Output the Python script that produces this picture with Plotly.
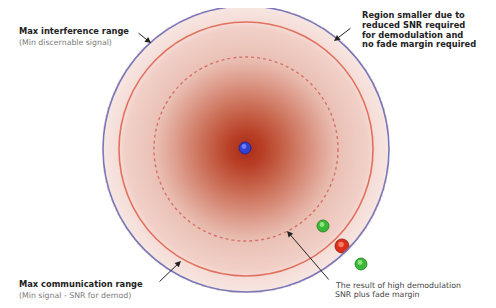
import numpy as np
import plotly.graph_objects as go

# ---- data ----
center = (246, 149)
ring_names = ["Max interference range", "Max communication range", "High demodulation SNR + fade margin"]
ring_radii = [143, 127, 92]
ring_colors = ["#7a78b8", "#e2705e", "#d8706a"]
ring_dash = ["solid", "solid", "dot"]

device_x = [245, 323, 342, 361]
device_y = [148, 226, 246, 264]
device_size = [12, 12, 14, 12]
device_colors = ["#3040d0", "#3cb838", "#d8301c", "#3cb838"]
device_edges = ["#1a2090", "#1e7a1e", "#8a1a0a", "#1e7a1e"]
device_highlights = ["#8090ff", "#a0f090", "#ff9070", "#a0f090"]

label_lines = ["Max interference range", "(Min discernable signal)",
               "Region smaller due to", "reduced SNR required", "for demodulation and", "no fade margin required",
               "Max communication range", "(Min signal - SNR for demod)",
               "The result of high demodulation", "SNR plus fade margin"]
label_x = [17, 17, 360, 360, 360, 360, 17, 17, 333, 333]
label_y = [31, 42, 15, 25, 34.5, 44, 284, 295, 285, 294]
label_style = ["b", "s", "b", "b", "b", "b", "b", "s", "r", "r"]

# page body has an 8px margin; map page pixels directly to data units
PAD = 8
W, H = 496, 308

fig = go.Figure()

# radial gradient fill
gx = np.arange(0, 497, 2)
gy = np.arange(0, 309, 2)
X, Y = np.meshgrid(gx, gy)
D = np.sqrt((X - center[0]) ** 2 + (Y - center[1]) ** 2)
Z = np.where(D <= ring_radii[0] + 1, D, np.nan)
fig.add_trace(go.Heatmap(
    x=gx, y=gy, z=Z, zmin=0, zmax=ring_radii[0], zsmooth="best", showscale=False, hoverinfo="skip",
    colorscale=[[0.0, "#ac2c18"], [0.12, "#b84026"], [0.3, "#ca6c54"], [0.5, "#de9e8e"],
                [0.64, "#eac0b4"], [0.85, "#f1d0c8"], [0.89, "#f5dcd6"], [1.0, "#f7e6e2"]]))

for r, c, d in zip(ring_radii, ring_colors, ring_dash):
    fig.add_shape(type="circle", xref="x", yref="y",
                  x0=center[0] - r, x1=center[0] + r, y0=center[1] - r, y1=center[1] + r,
                  line=dict(color=c, width=1.6 if d == "solid" else 1.4, dash=d))

fig.add_trace(go.Scatter(
    x=device_x, y=device_y, mode="markers", hoverinfo="skip",
    marker=dict(size=device_size, color=device_colors, opacity=1,
                line=dict(width=0.8, color=device_edges))))
fig.add_trace(go.Scatter(
    x=[v - 1 for v in device_x], y=[v - 1.5 for v in device_y], mode="markers", hoverinfo="skip",
    marker=dict(size=[s * 0.4 for s in device_size], color=device_highlights, opacity=0.8, line=dict(width=0))))

fonts = {
    "b": dict(family="DejaVu Sans", size=8.3, color="#222222"),
    "s": dict(family="DejaVu Sans", size=7.8, color="#7a7a7a"),
    "r": dict(family="DejaVu Sans", size=7.8, color="#444444"),
}
for t, x, y, s in zip(label_lines, label_x, label_y, label_style):
    fig.add_annotation(x=x, y=y, text=("<b>" + t + "</b>") if s == "b" else t, showarrow=False,
                       xanchor="left", yanchor="middle", font=fonts[s])

arrows = [((151, 43), (137, 32)), ((334, 41), (352, 27)), ((181, 261), (158, 283)), ((287, 231), (330, 281))]
for (tx, ty), (ax, ay) in arrows:
    fig.add_annotation(x=tx, y=ty, ax=ax, ay=ay, xref="x", yref="y", axref="x", ayref="y", text="",
                       showarrow=True, arrowhead=2, arrowsize=1.2, arrowwidth=1, arrowcolor="#222222")

fig.update_layout(
    width=W - 2 * PAD, height=H - 2 * PAD, margin=dict(l=0, r=0, t=0, b=0),
    paper_bgcolor="white", plot_bgcolor="white", showlegend=False,
    xaxis=dict(range=[PAD, W - PAD], visible=False, fixedrange=True),
    yaxis=dict(range=[H - PAD, PAD], visible=False, fixedrange=True),
)
fig.write_html("out.html")
